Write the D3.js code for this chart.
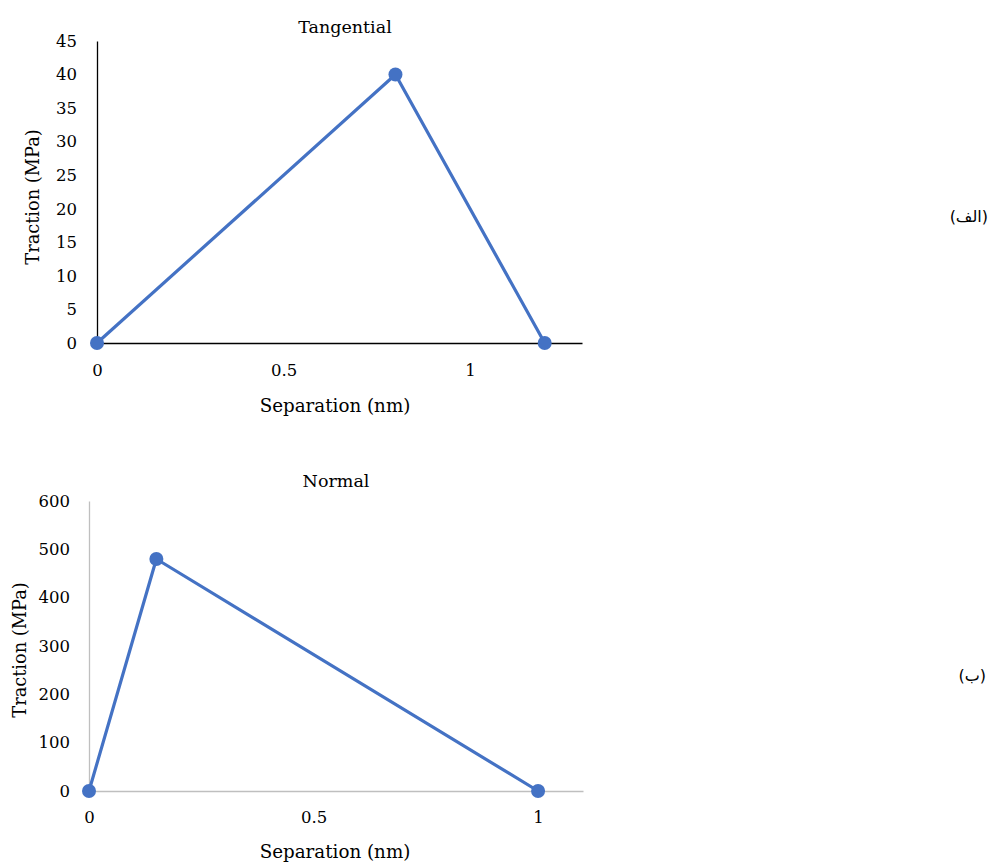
<!DOCTYPE html>
<html><head><meta charset="utf-8">
<script src="https://cdn.jsdelivr.net/npm/d3@7/dist/d3.min.js"></script>
<style>
body{margin:0;background:#fff}
svg text{fill:#000}
</style></head>
<body>
<svg id="c" width="990" height="862"></svg>
<script>
// Tangential chart data
const tangentialSeparation = [0, 0.8, 1.2];
const tangentialTraction = [0, 40, 0];
const tangentialYTicks = [0,5,10,15,20,25,30,35,40,45];
const tangentialXTicks = [0, 0.5, 1];
// Normal chart data
const normalSeparation = [0, 0.15, 1];
const normalTraction = [0, 480, 0];
const normalYTicks = [0,100,200,300,400,500,600];
const normalXTicks = [0, 0.5, 1];

const svg = d3.select("#c");
const blue = "#4472C4";
const serif = "'DejaVu Serif', serif";

function drawChart(cfg){
  const g = svg.append("g");
  const x = d3.scaleLinear().domain(cfg.xDomain).range([cfg.x0, cfg.x1]);
  const y = d3.scaleLinear().domain(cfg.yDomain).range([cfg.y0, cfg.y1]);
  const ya = d3.axisLeft(y).tickValues(cfg.yTicks).tickSize(0).tickPadding(cfg.yPad).tickFormat(d3.format("d"));
  const yg = g.append("g").attr("transform",`translate(${cfg.x0},0)`).call(ya);
  yg.attr("font-family",serif).attr("font-size",16.5);
  yg.select(".domain").attr("stroke",cfg.axisColor).attr("stroke-width",cfg.axisWidth);
  const xa = d3.axisBottom(x).tickValues(cfg.xTicks).tickSize(0).tickPadding(cfg.xPad).tickFormat(d=>String(d));
  const xg = g.append("g").attr("transform",`translate(0,${cfg.y0})`).call(xa);
  xg.attr("font-family",serif).attr("font-size",16.5);
  xg.select(".domain").attr("stroke",cfg.axisColor).attr("stroke-width",cfg.axisWidth);
  const pts = cfg.xs.map((v,i)=>[v,cfg.ys[i]]);
  g.append("path").datum(pts)
    .attr("d", d3.line().x(d=>x(d[0])).y(d=>y(d[1])))
    .attr("fill","none").attr("stroke",blue).attr("stroke-width",3.2).attr("stroke-linejoin","round");
  g.selectAll("circle").data(pts).join("circle")
    .attr("cx",d=>x(d[0])).attr("cy",d=>y(d[1])).attr("r",7).attr("fill",blue);
  const t = g.append("g").attr("font-family",serif);
  t.append("text").attr("x",cfg.titleX).attr("y",cfg.titleY).attr("text-anchor","middle").attr("font-size",17.5).text(cfg.title);
  t.append("text").attr("x",cfg.xTitleX).attr("y",cfg.xTitleY).attr("text-anchor","middle").attr("font-size",18.3).text("Separation (nm)");
  t.append("text").attr("transform",`translate(${cfg.yTitleX},${cfg.yTitleY}) rotate(-90)`).attr("text-anchor","middle").attr("font-size",17.8).text("Traction (MPa)");
  g.append("text").attr("x",cfg.labelX).attr("y",cfg.labelY).attr("text-anchor","start").attr("direction","rtl")
    .attr("font-family","'DejaVu Sans','Noto Sans',sans-serif").attr("font-size",16).text(cfg.label);
}

drawChart({
  xs:tangentialSeparation, ys:tangentialTraction, xTicks:tangentialXTicks, yTicks:tangentialYTicks,
  xDomain:[0,1.3], yDomain:[0,45], x0:97, x1:582, y0:343, y1:41,
  axisColor:"#000", axisWidth:1.3, yPad:20, xPad:21,
  title:"Tangential", titleX:345, titleY:33,
  xTitleX:335, xTitleY:412, yTitleX:39, yTitleY:197,
  label:"(الف)", labelX:988, labelY:222
});
drawChart({
  xs:normalSeparation, ys:normalTraction, xTicks:normalXTicks, yTicks:normalYTicks,
  xDomain:[0,1.1], yDomain:[0,600], x0:89, x1:583, y0:791, y1:501,
  axisColor:"#bfbfbf", axisWidth:1.3, yPad:19, xPad:20,
  title:"Normal", titleX:336, titleY:487,
  xTitleX:335, xTitleY:858, yTitleX:26, yTitleY:650,
  label:"(ب)", labelX:986, labelY:681
});
</script>
</body></html>
